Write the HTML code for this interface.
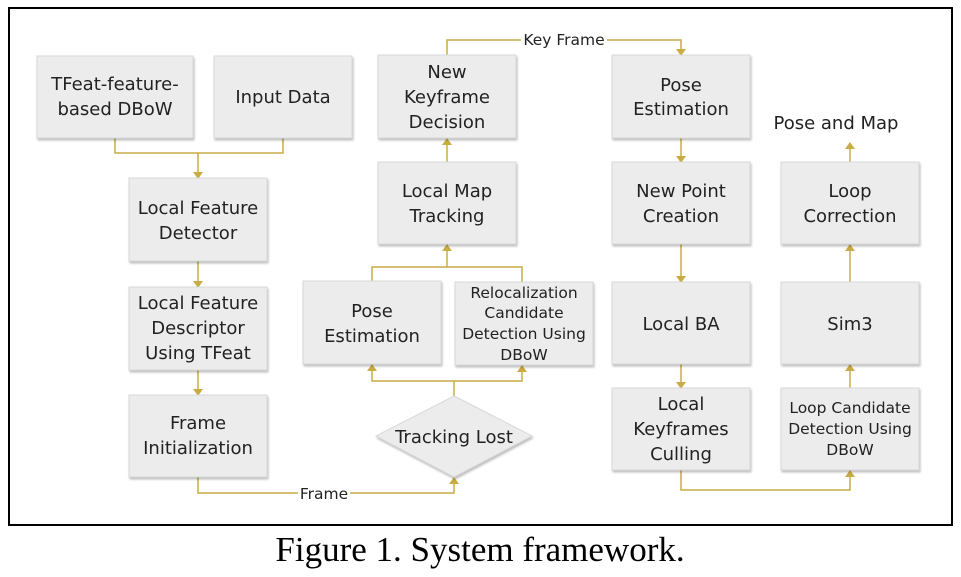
<!DOCTYPE html>
<html><head><meta charset="utf-8"><style>
body{margin:0;background:#fff;width:961px;height:572px;overflow:hidden}
svg text{font-family:"DejaVu Sans","Liberation Sans",sans-serif;font-size:18px;fill:#222;text-anchor:middle}
.b{fill:#ececec;stroke:#d8d8d8;stroke-width:1;filter:drop-shadow(1px 2px 1px rgba(0,0,0,0.25))}
.l{stroke:#c9ac45;stroke-width:1.5;fill:none}
.a{fill:#c9ac45}
.s{font-size:15.5px}
</style></head><body>
<svg width="961" height="572" xmlns="http://www.w3.org/2000/svg">
<rect x="9" y="8" width="943" height="517" fill="#fff" stroke="#000" stroke-width="2"/>
<g class="l">
<polyline points="115,138 115,153 283,153 283,138"/><line x1="198" y1="153" x2="198" y2="172"/>
<line x1="198" y1="261" x2="198" y2="281"/><line x1="198" y1="370" x2="198" y2="389"/>
<polyline points="198,477 198,493 454,493 454,483"/>
<polyline points="447,55 447,40 681,40 681,49"/>
<line x1="447" y1="162" x2="447" y2="144"/>
<polyline points="372,281 372,267 522,267 522,282"/><line x1="447" y1="267" x2="447" y2="250"/>
<polyline points="372,370 372,381 522,381 522,371"/><line x1="454" y1="381" x2="454" y2="396"/>
<line x1="681" y1="138" x2="681" y2="156"/><line x1="681" y1="244" x2="681" y2="276"/><line x1="681" y1="364" x2="681" y2="382"/>
<polyline points="681,470 681,490 850,490 850,476"/>
<line x1="850" y1="388" x2="850" y2="370"/><line x1="850" y1="282" x2="850" y2="250"/><line x1="850" y1="162" x2="850" y2="148"/>
</g>
<g class="a">
<path d="M193,172h10l-5,7z"/><path d="M193,281h10l-5,7z"/><path d="M193,389h10l-5,7z"/>
<path d="M449,484h10l-5,-7z"/><path d="M676,49h10l-5,7z"/>
<path d="M442,145h10l-5,-7z"/><path d="M442,251h10l-5,-7z"/>
<path d="M367,371h10l-5,-7z"/><path d="M517,372h10l-5,-7z"/>
<path d="M676,156h10l-5,7z"/><path d="M676,276h10l-5,7z"/><path d="M676,382h10l-5,7z"/>
<path d="M845,477h10l-5,-7z"/><path d="M845,371h10l-5,-7z"/><path d="M845,251h10l-5,-7z"/><path d="M845,149h10l-5,-7z"/>
</g>
<rect x="521" y="32" width="86" height="16" fill="#fff"/><text x="564" y="45" style="font-size:15.5px">Key Frame</text>
<rect x="298" y="485" width="52" height="16" fill="#fff"/><text x="324" y="499" style="font-size:15.5px">Frame</text>
<rect class="b" x="37" y="56" width="156" height="82"/><text x="115" y="90">TFeat-feature-</text><text x="115" y="115">based DBoW</text>
<rect class="b" x="214" y="56" width="138" height="82"/><text x="283" y="103">Input Data</text>
<rect class="b" x="129" y="178" width="138" height="83"/><text x="198" y="214">Local Feature</text><text x="198" y="239">Detector</text>
<rect class="b" x="129" y="287" width="138" height="83"/><text x="198" y="309">Local Feature</text><text x="198" y="334">Descriptor</text><text x="198" y="359">Using TFeat</text>
<rect class="b" x="129" y="395" width="138" height="82"/><text x="198" y="429">Frame</text><text x="198" y="454">Initialization</text>
<rect class="b" x="378" y="55" width="138" height="83"/><text x="447" y="78">New</text><text x="447" y="103">Keyframe</text><text x="447" y="128">Decision</text>
<rect class="b" x="378" y="162" width="138" height="82"/><text x="447" y="197">Local Map</text><text x="447" y="222">Tracking</text>
<rect class="b" x="303" y="281" width="138" height="83"/><text x="372" y="317">Pose</text><text x="372" y="342">Estimation</text>
<rect class="b" x="455" y="282" width="138" height="83"/>
<text class="s" x="524" y="298">Relocalization</text><text class="s" x="524" y="318">Candidate</text><text class="s" x="524" y="339">Detection Using</text><text class="s" x="524" y="360">DBoW</text>
<polygon class="b" points="454,396 532,436 454,477 376,436"/><text x="454" y="443">Tracking Lost</text>
<rect class="b" x="612" y="55" width="138" height="83"/><text x="681" y="91">Pose</text><text x="681" y="115">Estimation</text>
<rect class="b" x="612" y="162" width="138" height="82"/><text x="681" y="197">New Point</text><text x="681" y="222">Creation</text>
<rect class="b" x="612" y="282" width="138" height="82"/><text x="681" y="330">Local BA</text>
<rect class="b" x="612" y="388" width="138" height="82"/><text x="681" y="410">Local</text><text x="681" y="435">Keyframes</text><text x="681" y="460">Culling</text>
<text x="836" y="129">Pose and Map</text>
<rect class="b" x="781" y="162" width="138" height="82"/><text x="850" y="197">Loop</text><text x="850" y="222">Correction</text>
<rect class="b" x="781" y="282" width="138" height="82"/><text x="850" y="330">Sim3</text>
<rect class="b" x="781" y="388" width="138" height="82"/><text class="s" x="850" y="413">Loop Candidate</text><text class="s" x="850" y="434">Detection Using</text><text class="s" x="850" y="455">DBoW</text>
<text x="480" y="561" style="font-family:'Liberation Serif',serif;font-size:35px;fill:#000">Figure 1. System framework.</text>
</svg>
</body></html>
